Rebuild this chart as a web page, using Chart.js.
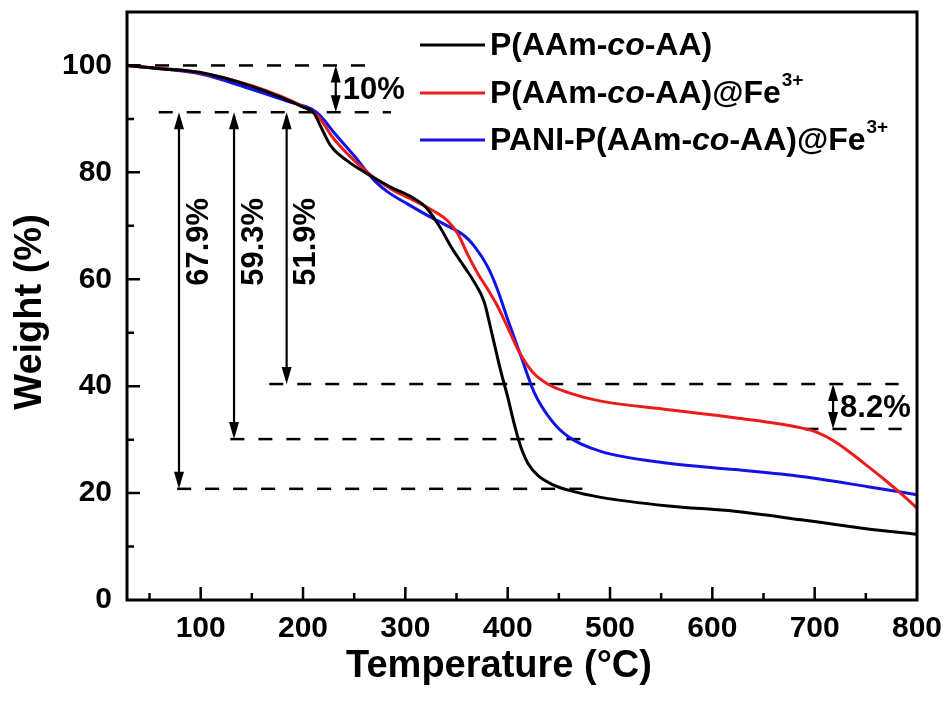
<!DOCTYPE html>
<html lang="en">
<head>
<meta charset="UTF-8">
<title>TGA curves</title>
<script src="https://cdn.jsdelivr.net/npm/chart.js"></script>
<style>
  body { margin: 0; background: #fff; }
</style>
</head>
<body>
<canvas id="tgaChart" width="950" height="704"></canvas>
<script>
// values: temperature (°C) and weight (%)
const tempBlack = [28, 60, 100, 150, 200, 211, 217, 227, 243, 263, 286, 305, 320, 333, 345, 357, 367, 377, 385, 393, 400, 407, 414, 420, 430, 445, 460, 491, 557, 622, 687, 752, 800];
const weightBlack = [100, 99.4, 98.7, 96.1, 92.2, 91, 88.7, 85, 82.2, 79.7, 77.2, 75.5, 73.5, 70, 66, 62.5, 59.6, 55.8, 49.5, 43, 38, 32.5, 28, 25.5, 23.2, 21.5, 20.5, 19.2, 17.6, 16.6, 15, 13.3, 12.3];

const tempRed = [28, 100, 150, 200, 215, 230, 263, 286, 312, 330, 341, 351, 361, 371, 380, 390, 400, 411, 425, 440, 459, 491, 557, 622, 687, 703, 720, 736, 752, 769, 785, 800];
const weightRed = [100, 98.6, 96.2, 92.3, 90.4, 86.3, 80, 76.9, 74.4, 72.5, 71, 68.6, 64.6, 61, 58.3, 55, 51, 46.5, 42.5, 40.3, 38.8, 37.2, 35.6, 34.1, 32.2, 31.3, 29.6, 27.4, 25, 22.4, 19.8, 17.2];

const tempBlue = [28, 100, 149, 190, 208, 217, 230, 250, 270, 283, 302, 322, 341, 358, 367, 380, 390, 400, 413, 426, 442, 459, 491, 557, 622, 687, 752, 800];
const weightBlue = [100, 98.4, 95.6, 93, 91.9, 90.6, 87.5, 83.1, 78.4, 76.3, 74.1, 71.9, 70, 68.1, 66.3, 62.5, 58.1, 52.5, 45.6, 38.8, 33.8, 30.6, 27.8, 25.6, 24.4, 23.1, 21.2, 19.7];

const seriesNames = ['P(AAm-co-AA)', 'P(AAm-co-AA)@Fe3+', 'PANI-P(AAm-co-AA)@Fe3+'];
const seriesColors = ['#000000', '#ec1c1c', '#1212e6'];

const xTicks = [100, 200, 300, 400, 500, 600, 700, 800];
const yTicks = [0, 20, 40, 60, 80, 100];

// annotation levels (weight %) and the temperatures where they sit
const dashLevels = [[28, 270, 100], [59, 286, 91.25], [167, 782, 40.4], [129, 472, 30.1], [77, 473, 20.8], [690, 785, 32]];
const lossArrows = [
  { t: 232, from: 100, to: 91.25, text: '10%', side: 'h' },
  { t: 78.8, from: 91.25, to: 20.8, text: '67.9%', side: 'v' },
  { t: 132.6, from: 91.25, to: 30.1, text: '59.3%', side: 'v' },
  { t: 184, from: 91.25, to: 40.4, text: '51.9%', side: 'v' },
  { t: 718, from: 40.4, to: 32, text: '8.2%', side: 'h' }
];

const FONT = '"Liberation Sans", Arial, sans-serif';

function pts(xs, ys) {
  return xs.map((x, i) => ({ x: x, y: ys[i] }));
}

// label text with italic "co" and superscript "3+"
function richParts(name) {
  const parts = [];
  let rest = name;
  let sup = null;
  if (rest.endsWith('3+')) { sup = '3+'; rest = rest.slice(0, -2); }
  const bits = rest.split('-co-');
  parts.push({ t: bits[0] + '-', style: 'bold' });
  parts.push({ t: 'co', style: 'italic bold' });
  parts.push({ t: '-' + bits[1], style: 'bold' });
  if (sup) parts.push({ t: sup, style: 'bold', sup: true });
  return parts;
}

function arrowHead(ctx, x, y, dir) {
  // dir -1 = pointing up, 1 = pointing down
  ctx.beginPath();
  ctx.moveTo(x, y);
  ctx.lineTo(x - 5, y - dir * 17);
  ctx.lineTo(x + 5, y - dir * 17);
  ctx.closePath();
  ctx.fill();
}

const decor = {
  id: 'decor',
  beforeDatasetsDraw(chart) {
    const ctx = chart.ctx;
    const xs = chart.scales.x, ys = chart.scales.y;
    ctx.save();
    ctx.strokeStyle = '#000';
    ctx.fillStyle = '#000';
    ctx.lineWidth = 2.5;
    ctx.setLineDash([14, 14]);
    dashLevels.forEach(d => {
      const y = ys.getPixelForValue(d[2]);
      ctx.beginPath();
      ctx.moveTo(xs.getPixelForValue(d[0]), y);
      ctx.lineTo(xs.getPixelForValue(d[1]), y);
      ctx.stroke();
    });
    ctx.setLineDash([]);
    ctx.font = 'bold 31px ' + FONT;
    lossArrows.forEach(a => {
      const x = xs.getPixelForValue(a.t);
      const y1 = ys.getPixelForValue(a.from);
      const y2 = ys.getPixelForValue(a.to);
      ctx.lineWidth = 2.2;
      ctx.beginPath();
      ctx.moveTo(x, y1 + 4);
      ctx.lineTo(x, y2 - 4);
      ctx.stroke();
      arrowHead(ctx, x, y1, -1);
      arrowHead(ctx, x, y2, 1);
      if (a.side === 'h') {
        ctx.textAlign = 'left';
        ctx.textBaseline = 'middle';
        ctx.fillText(a.text, x + 7, (y1 + y2) / 2 + 2);
      } else {
        ctx.save();
        ctx.translate(x + 20, ys.getPixelForValue(67));
        ctx.rotate(-Math.PI / 2);
        ctx.textAlign = 'center';
        ctx.textBaseline = 'middle';
        ctx.fillText(a.text, 0, 0);
        ctx.restore();
      }
    });
    ctx.restore();
  },
  afterDraw(chart) {
    const ctx = chart.ctx;
    const ca = chart.chartArea;
    const xs = chart.scales.x, ys = chart.scales.y;
    ctx.save();
    ctx.strokeStyle = '#000';
    ctx.lineWidth = 3;
    ctx.strokeRect(ca.left, ca.top, ca.right - ca.left, ca.bottom - ca.top);

    // inward ticks
    ctx.lineWidth = 2.5;
    ctx.beginPath();
    for (let t = 50; t < 800; t += 50) {
      const x = xs.getPixelForValue(t);
      const len = t % 100 === 0 ? 13 : 7;
      ctx.moveTo(x, ca.bottom);
      ctx.lineTo(x, ca.bottom - len);
    }
    for (let w = 10; w <= 100; w += 10) {
      const y = ys.getPixelForValue(w);
      const len = w % 20 === 0 ? 13 : 7;
      ctx.moveTo(ca.left, y);
      ctx.lineTo(ca.left + len, y);
    }
    ctx.stroke();

    // axis titles
    ctx.fillStyle = '#000';
    ctx.font = 'bold 38px ' + FONT;
    ctx.textAlign = 'center';
    ctx.textBaseline = 'middle';
    ctx.fillText('Temperature (°C)', 499, 667);
    ctx.save();
    ctx.translate(31, 312);
    ctx.rotate(-Math.PI / 2);
    ctx.fillText('Weight (%)', 0, 0);
    ctx.restore();

    // legend
    const rows = [45, 93, 140];
    chart.data.datasets.forEach((ds, i) => {
      const y = rows[i];
      ctx.strokeStyle = ds.borderColor;
      ctx.lineWidth = 3;
      ctx.beginPath();
      ctx.moveTo(420, y);
      ctx.lineTo(485, y);
      ctx.stroke();
      let x = 490;
      ctx.textAlign = 'left';
      ctx.textBaseline = 'middle';
      richParts(ds.label).forEach(p => {
        if (p.sup) {
          ctx.font = p.style + ' 19px ' + FONT;
          ctx.fillText(p.t, x + 1, y - 12);
          x += ctx.measureText(p.t).width;
        } else {
          ctx.font = p.style + ' 32px ' + FONT;
          ctx.fillText(p.t, x, y + 1);
          x += ctx.measureText(p.t).width;
        }
      });
    });
    ctx.restore();
  }
};

const ctx = document.getElementById('tgaChart').getContext('2d');
new Chart(ctx, {
  type: 'line',
  data: {
    datasets: [
      { label: seriesNames[0], data: pts(tempBlack, weightBlack), borderColor: seriesColors[0] },
      { label: seriesNames[1], data: pts(tempRed, weightRed), borderColor: seriesColors[1] },
      { label: seriesNames[2], data: pts(tempBlue, weightBlue), borderColor: seriesColors[2] }
    ]
  },
  options: {
    responsive: false,
    devicePixelRatio: 1,
    animation: false,
    layout: { padding: { top: 12, right: 33, left: 0, bottom: 0 } },
    elements: {
      line: { borderWidth: 3, cubicInterpolationMode: 'monotone', fill: false },
      point: { radius: 0 }
    },
    plugins: {
      legend: { display: false },
      tooltip: { enabled: false }
    },
    scales: {
      x: {
        type: 'linear',
        min: 28,
        max: 800,
        grid: { display: false, drawTicks: false },
        border: { display: false },
        ticks: {
          color: '#000',
          padding: 11,
          maxRotation: 0,
          autoSkip: false,
          font: { family: FONT, size: 30, weight: 'bold' }
        },
        afterBuildTicks: s => { s.ticks = xTicks.map(v => ({ value: v })); },
        afterFit: s => { s.height = 104; s.paddingLeft = 0; s.paddingRight = 0; }
      },
      y: {
        min: 0,
        max: 110,
        grid: { display: false, drawTicks: false },
        border: { display: false },
        ticks: {
          color: '#000',
          padding: 15,
          font: { family: FONT, size: 30, weight: 'bold' }
        },
        afterBuildTicks: s => { s.ticks = yTicks.map(v => ({ value: v })); },
        afterFit: s => { s.width = 127; s.paddingTop = 0; s.paddingBottom = 0; }
      }
    }
  },
  plugins: [decor]
});
</script>
</body>
</html>
